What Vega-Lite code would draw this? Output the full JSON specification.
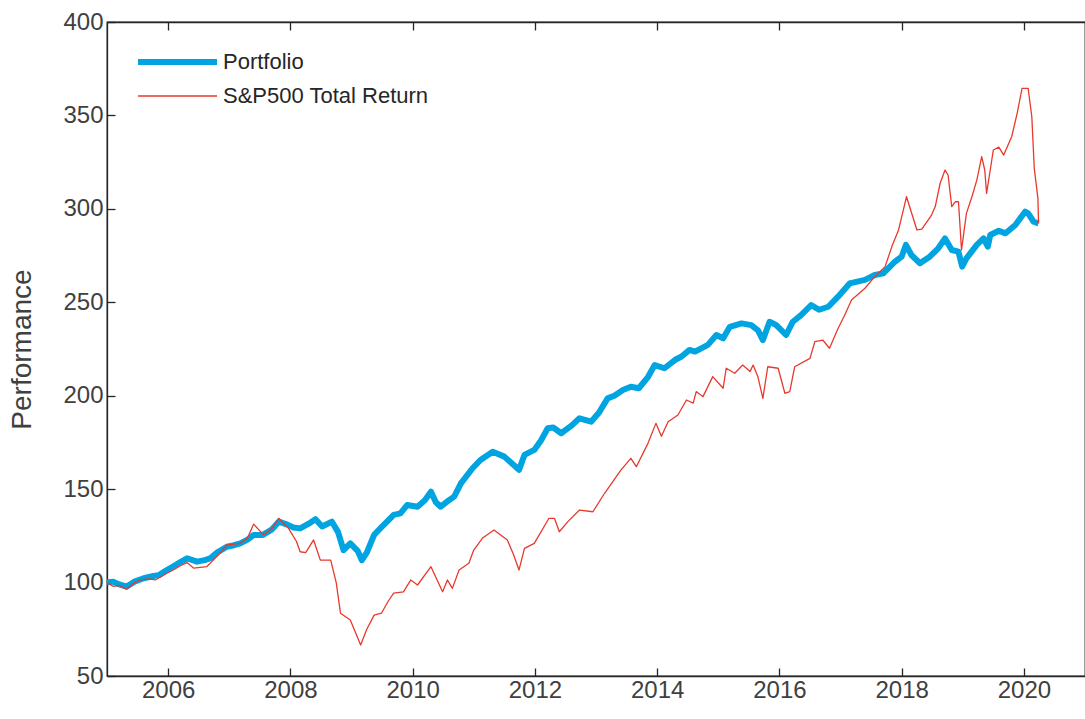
{
  "$schema": "https://vega.github.io/schema/vega-lite/v6.json",
  "width": 978,
  "height": 654,
  "autosize": {"type": "none"},
  "padding": {"left": 107, "top": 22, "right": 0, "bottom": 43},
  "background": "white",
  "config": {
    "font": "Liberation Sans",
    "view": {"stroke": "#262626", "strokeWidth": 1.3},
    "axis": {
      "domainColor": "#262626",
      "domainWidth": 1.3,
      "tickColor": "#262626",
      "tickWidth": 1.3,
      "tickSize": -8,
      "labelColor": "#404040",
      "labelFont": "Liberation Sans",
      "labelFontSize": 24,
      "grid": false,
      "titleFont": "Liberation Sans",
      "titleFontWeight": "normal",
      "titleColor": "#404040"
    }
  },
  "datasets": {
    "series": [
      {"yr": 2005.0, "s": "Portfolio", "v": 100},
      {"yr": 2005.1, "s": "Portfolio", "v": 100.5},
      {"yr": 2005.2, "s": "Portfolio", "v": 99},
      {"yr": 2005.32, "s": "Portfolio", "v": 97.8},
      {"yr": 2005.45, "s": "Portfolio", "v": 100.5},
      {"yr": 2005.6, "s": "Portfolio", "v": 102.3},
      {"yr": 2005.76, "s": "Portfolio", "v": 103.5},
      {"yr": 2005.85, "s": "Portfolio", "v": 104},
      {"yr": 2005.98, "s": "Portfolio", "v": 106.7},
      {"yr": 2006.1, "s": "Portfolio", "v": 109},
      {"yr": 2006.2, "s": "Portfolio", "v": 111},
      {"yr": 2006.31, "s": "Portfolio", "v": 113},
      {"yr": 2006.47, "s": "Portfolio", "v": 111.2},
      {"yr": 2006.6, "s": "Portfolio", "v": 112},
      {"yr": 2006.69, "s": "Portfolio", "v": 113},
      {"yr": 2006.8, "s": "Portfolio", "v": 116},
      {"yr": 2006.96, "s": "Portfolio", "v": 119.2},
      {"yr": 2007.08, "s": "Portfolio", "v": 120},
      {"yr": 2007.18, "s": "Portfolio", "v": 121},
      {"yr": 2007.3, "s": "Portfolio", "v": 123},
      {"yr": 2007.4, "s": "Portfolio", "v": 125.5},
      {"yr": 2007.55, "s": "Portfolio", "v": 125.5},
      {"yr": 2007.7, "s": "Portfolio", "v": 128.5},
      {"yr": 2007.81, "s": "Portfolio", "v": 132.6},
      {"yr": 2007.95, "s": "Portfolio", "v": 131},
      {"yr": 2008.05, "s": "Portfolio", "v": 129.5},
      {"yr": 2008.16, "s": "Portfolio", "v": 129},
      {"yr": 2008.3, "s": "Portfolio", "v": 131.5},
      {"yr": 2008.41, "s": "Portfolio", "v": 133.9},
      {"yr": 2008.52, "s": "Portfolio", "v": 130},
      {"yr": 2008.68, "s": "Portfolio", "v": 132.6},
      {"yr": 2008.78, "s": "Portfolio", "v": 127},
      {"yr": 2008.87, "s": "Portfolio", "v": 117.4},
      {"yr": 2008.98, "s": "Portfolio", "v": 121},
      {"yr": 2009.1, "s": "Portfolio", "v": 117},
      {"yr": 2009.17, "s": "Portfolio", "v": 112},
      {"yr": 2009.25, "s": "Portfolio", "v": 116},
      {"yr": 2009.37, "s": "Portfolio", "v": 125.5},
      {"yr": 2009.5, "s": "Portfolio", "v": 130},
      {"yr": 2009.69, "s": "Portfolio", "v": 136.2},
      {"yr": 2009.8, "s": "Portfolio", "v": 137},
      {"yr": 2009.91, "s": "Portfolio", "v": 141.5},
      {"yr": 2010.08, "s": "Portfolio", "v": 140.6},
      {"yr": 2010.2, "s": "Portfolio", "v": 144},
      {"yr": 2010.3, "s": "Portfolio", "v": 148.6},
      {"yr": 2010.38, "s": "Portfolio", "v": 143},
      {"yr": 2010.46, "s": "Portfolio", "v": 140.6},
      {"yr": 2010.6, "s": "Portfolio", "v": 144.2},
      {"yr": 2010.68, "s": "Portfolio", "v": 146},
      {"yr": 2010.79, "s": "Portfolio", "v": 153.1},
      {"yr": 2010.98, "s": "Portfolio", "v": 161.2},
      {"yr": 2011.11, "s": "Portfolio", "v": 165.6},
      {"yr": 2011.31, "s": "Portfolio", "v": 170},
      {"yr": 2011.5, "s": "Portfolio", "v": 167.4},
      {"yr": 2011.65, "s": "Portfolio", "v": 163},
      {"yr": 2011.74, "s": "Portfolio", "v": 160.3},
      {"yr": 2011.83, "s": "Portfolio", "v": 168.3},
      {"yr": 2011.99, "s": "Portfolio", "v": 171},
      {"yr": 2012.1, "s": "Portfolio", "v": 176},
      {"yr": 2012.21, "s": "Portfolio", "v": 182.6},
      {"yr": 2012.3, "s": "Portfolio", "v": 183},
      {"yr": 2012.43, "s": "Portfolio", "v": 179.9},
      {"yr": 2012.6, "s": "Portfolio", "v": 184},
      {"yr": 2012.73, "s": "Portfolio", "v": 187.9},
      {"yr": 2012.92, "s": "Portfolio", "v": 186.1},
      {"yr": 2013.05, "s": "Portfolio", "v": 191},
      {"yr": 2013.19, "s": "Portfolio", "v": 198.6},
      {"yr": 2013.3, "s": "Portfolio", "v": 200},
      {"yr": 2013.44, "s": "Portfolio", "v": 203.1},
      {"yr": 2013.57, "s": "Portfolio", "v": 204.8},
      {"yr": 2013.7, "s": "Portfolio", "v": 204},
      {"yr": 2013.85, "s": "Portfolio", "v": 210},
      {"yr": 2013.96, "s": "Portfolio", "v": 216.4},
      {"yr": 2014.12, "s": "Portfolio", "v": 214.7},
      {"yr": 2014.29, "s": "Portfolio", "v": 219.1},
      {"yr": 2014.4, "s": "Portfolio", "v": 221},
      {"yr": 2014.53, "s": "Portfolio", "v": 224.5},
      {"yr": 2014.62, "s": "Portfolio", "v": 223.6},
      {"yr": 2014.83, "s": "Portfolio", "v": 227.2},
      {"yr": 2014.97, "s": "Portfolio", "v": 232.5},
      {"yr": 2015.08, "s": "Portfolio", "v": 230.7},
      {"yr": 2015.19, "s": "Portfolio", "v": 236.9},
      {"yr": 2015.38, "s": "Portfolio", "v": 238.7},
      {"yr": 2015.54, "s": "Portfolio", "v": 237.8},
      {"yr": 2015.65, "s": "Portfolio", "v": 235},
      {"yr": 2015.73, "s": "Portfolio", "v": 229.8},
      {"yr": 2015.84, "s": "Portfolio", "v": 239.6},
      {"yr": 2015.95, "s": "Portfolio", "v": 237.8},
      {"yr": 2016.11, "s": "Portfolio", "v": 232.5},
      {"yr": 2016.22, "s": "Portfolio", "v": 239.6},
      {"yr": 2016.35, "s": "Portfolio", "v": 243},
      {"yr": 2016.52, "s": "Portfolio", "v": 248.5},
      {"yr": 2016.65, "s": "Portfolio", "v": 246},
      {"yr": 2016.8, "s": "Portfolio", "v": 247.6},
      {"yr": 2016.96, "s": "Portfolio", "v": 253},
      {"yr": 2017.15, "s": "Portfolio", "v": 260.1},
      {"yr": 2017.4, "s": "Portfolio", "v": 262},
      {"yr": 2017.56, "s": "Portfolio", "v": 264.6},
      {"yr": 2017.7, "s": "Portfolio", "v": 265.5},
      {"yr": 2017.89, "s": "Portfolio", "v": 271.7},
      {"yr": 2018.0, "s": "Portfolio", "v": 274.4},
      {"yr": 2018.07, "s": "Portfolio", "v": 280.7},
      {"yr": 2018.16, "s": "Portfolio", "v": 275.3},
      {"yr": 2018.3, "s": "Portfolio", "v": 270.9},
      {"yr": 2018.46, "s": "Portfolio", "v": 274.4},
      {"yr": 2018.6, "s": "Portfolio", "v": 278.9},
      {"yr": 2018.71, "s": "Portfolio", "v": 284.2},
      {"yr": 2018.82, "s": "Portfolio", "v": 278},
      {"yr": 2018.93, "s": "Portfolio", "v": 277.1},
      {"yr": 2018.99, "s": "Portfolio", "v": 269.1},
      {"yr": 2019.06, "s": "Portfolio", "v": 273.5},
      {"yr": 2019.23, "s": "Portfolio", "v": 280.7},
      {"yr": 2019.34, "s": "Portfolio", "v": 284.2},
      {"yr": 2019.41, "s": "Portfolio", "v": 279.8},
      {"yr": 2019.45, "s": "Portfolio", "v": 286},
      {"yr": 2019.59, "s": "Portfolio", "v": 288.3},
      {"yr": 2019.7, "s": "Portfolio", "v": 286.9},
      {"yr": 2019.86, "s": "Portfolio", "v": 291.4},
      {"yr": 2020.02, "s": "Portfolio", "v": 298.5},
      {"yr": 2020.07, "s": "Portfolio", "v": 297.6},
      {"yr": 2020.16, "s": "Portfolio", "v": 293.1},
      {"yr": 2020.24, "s": "Portfolio", "v": 292.2},
      {"yr": 2005.0, "s": "S&P500 Total Return", "v": 100},
      {"yr": 2005.1, "s": "S&P500 Total Return", "v": 98},
      {"yr": 2005.2, "s": "S&P500 Total Return", "v": 98.5},
      {"yr": 2005.32, "s": "S&P500 Total Return", "v": 96.4},
      {"yr": 2005.45, "s": "S&P500 Total Return", "v": 100},
      {"yr": 2005.54, "s": "S&P500 Total Return", "v": 101.4},
      {"yr": 2005.68, "s": "S&P500 Total Return", "v": 102},
      {"yr": 2005.79, "s": "S&P500 Total Return", "v": 101.4},
      {"yr": 2005.98, "s": "S&P500 Total Return", "v": 105},
      {"yr": 2006.1, "s": "S&P500 Total Return", "v": 107},
      {"yr": 2006.2, "s": "S&P500 Total Return", "v": 109},
      {"yr": 2006.31, "s": "S&P500 Total Return", "v": 110.7},
      {"yr": 2006.42, "s": "S&P500 Total Return", "v": 107.7},
      {"yr": 2006.63, "s": "S&P500 Total Return", "v": 108.5},
      {"yr": 2006.8, "s": "S&P500 Total Return", "v": 114},
      {"yr": 2006.96, "s": "S&P500 Total Return", "v": 120.1},
      {"yr": 2007.18, "s": "S&P500 Total Return", "v": 121},
      {"yr": 2007.3, "s": "S&P500 Total Return", "v": 124},
      {"yr": 2007.4, "s": "S&P500 Total Return", "v": 131.3},
      {"yr": 2007.56, "s": "S&P500 Total Return", "v": 125.5},
      {"yr": 2007.7, "s": "S&P500 Total Return", "v": 129},
      {"yr": 2007.81, "s": "S&P500 Total Return", "v": 134.4},
      {"yr": 2007.97, "s": "S&P500 Total Return", "v": 129},
      {"yr": 2008.1, "s": "S&P500 Total Return", "v": 122},
      {"yr": 2008.16, "s": "S&P500 Total Return", "v": 116.5},
      {"yr": 2008.25, "s": "S&P500 Total Return", "v": 116},
      {"yr": 2008.38, "s": "S&P500 Total Return", "v": 122.8},
      {"yr": 2008.49, "s": "S&P500 Total Return", "v": 112},
      {"yr": 2008.66, "s": "S&P500 Total Return", "v": 112},
      {"yr": 2008.75, "s": "S&P500 Total Return", "v": 100},
      {"yr": 2008.82, "s": "S&P500 Total Return", "v": 83.6},
      {"yr": 2008.98, "s": "S&P500 Total Return", "v": 80},
      {"yr": 2009.15, "s": "S&P500 Total Return", "v": 66.6},
      {"yr": 2009.25, "s": "S&P500 Total Return", "v": 75},
      {"yr": 2009.37, "s": "S&P500 Total Return", "v": 82.6},
      {"yr": 2009.49, "s": "S&P500 Total Return", "v": 83.6},
      {"yr": 2009.6, "s": "S&P500 Total Return", "v": 90},
      {"yr": 2009.69, "s": "S&P500 Total Return", "v": 94.3},
      {"yr": 2009.85, "s": "S&P500 Total Return", "v": 95},
      {"yr": 2009.97, "s": "S&P500 Total Return", "v": 101.4},
      {"yr": 2010.08, "s": "S&P500 Total Return", "v": 98.7},
      {"yr": 2010.3, "s": "S&P500 Total Return", "v": 108.5},
      {"yr": 2010.49, "s": "S&P500 Total Return", "v": 95.1},
      {"yr": 2010.57, "s": "S&P500 Total Return", "v": 101.4},
      {"yr": 2010.65, "s": "S&P500 Total Return", "v": 96.9},
      {"yr": 2010.76, "s": "S&P500 Total Return", "v": 106.7},
      {"yr": 2010.92, "s": "S&P500 Total Return", "v": 110.3},
      {"yr": 2011.0, "s": "S&P500 Total Return", "v": 117.4},
      {"yr": 2011.14, "s": "S&P500 Total Return", "v": 123.7},
      {"yr": 2011.33, "s": "S&P500 Total Return", "v": 128.1},
      {"yr": 2011.55, "s": "S&P500 Total Return", "v": 122.8},
      {"yr": 2011.65, "s": "S&P500 Total Return", "v": 115},
      {"yr": 2011.74, "s": "S&P500 Total Return", "v": 106.7},
      {"yr": 2011.83, "s": "S&P500 Total Return", "v": 118.3},
      {"yr": 2011.99, "s": "S&P500 Total Return", "v": 121},
      {"yr": 2012.23, "s": "S&P500 Total Return", "v": 134.4},
      {"yr": 2012.32, "s": "S&P500 Total Return", "v": 134.4},
      {"yr": 2012.4, "s": "S&P500 Total Return", "v": 127.2},
      {"yr": 2012.54, "s": "S&P500 Total Return", "v": 132.6},
      {"yr": 2012.73, "s": "S&P500 Total Return", "v": 138.8},
      {"yr": 2012.95, "s": "S&P500 Total Return", "v": 137.9},
      {"yr": 2013.14, "s": "S&P500 Total Return", "v": 147.8},
      {"yr": 2013.41, "s": "S&P500 Total Return", "v": 160.3},
      {"yr": 2013.57, "s": "S&P500 Total Return", "v": 166.5},
      {"yr": 2013.66, "s": "S&P500 Total Return", "v": 162},
      {"yr": 2013.85, "s": "S&P500 Total Return", "v": 174.5},
      {"yr": 2013.98, "s": "S&P500 Total Return", "v": 185.2},
      {"yr": 2014.07, "s": "S&P500 Total Return", "v": 178.3},
      {"yr": 2014.18, "s": "S&P500 Total Return", "v": 186.1},
      {"yr": 2014.34, "s": "S&P500 Total Return", "v": 189.7},
      {"yr": 2014.48, "s": "S&P500 Total Return", "v": 197.7},
      {"yr": 2014.59, "s": "S&P500 Total Return", "v": 196},
      {"yr": 2014.64, "s": "S&P500 Total Return", "v": 202.2},
      {"yr": 2014.75, "s": "S&P500 Total Return", "v": 199.5},
      {"yr": 2014.91, "s": "S&P500 Total Return", "v": 210.2},
      {"yr": 2015.08, "s": "S&P500 Total Return", "v": 204},
      {"yr": 2015.13, "s": "S&P500 Total Return", "v": 214.7},
      {"yr": 2015.27, "s": "S&P500 Total Return", "v": 212},
      {"yr": 2015.4, "s": "S&P500 Total Return", "v": 216.4},
      {"yr": 2015.52, "s": "S&P500 Total Return", "v": 212.9},
      {"yr": 2015.57, "s": "S&P500 Total Return", "v": 216.4},
      {"yr": 2015.65, "s": "S&P500 Total Return", "v": 210},
      {"yr": 2015.73, "s": "S&P500 Total Return", "v": 198.6},
      {"yr": 2015.81, "s": "S&P500 Total Return", "v": 215.5},
      {"yr": 2015.98, "s": "S&P500 Total Return", "v": 214.7},
      {"yr": 2016.09, "s": "S&P500 Total Return", "v": 201.3},
      {"yr": 2016.17, "s": "S&P500 Total Return", "v": 202.2},
      {"yr": 2016.25, "s": "S&P500 Total Return", "v": 215.5},
      {"yr": 2016.5, "s": "S&P500 Total Return", "v": 220},
      {"yr": 2016.58, "s": "S&P500 Total Return", "v": 228.9},
      {"yr": 2016.71, "s": "S&P500 Total Return", "v": 229.8},
      {"yr": 2016.82, "s": "S&P500 Total Return", "v": 225.4},
      {"yr": 2016.96, "s": "S&P500 Total Return", "v": 236},
      {"yr": 2017.07, "s": "S&P500 Total Return", "v": 243.2},
      {"yr": 2017.18, "s": "S&P500 Total Return", "v": 251.2},
      {"yr": 2017.4, "s": "S&P500 Total Return", "v": 257.5},
      {"yr": 2017.56, "s": "S&P500 Total Return", "v": 263.7},
      {"yr": 2017.73, "s": "S&P500 Total Return", "v": 269.1},
      {"yr": 2017.84, "s": "S&P500 Total Return", "v": 279.8},
      {"yr": 2017.95, "s": "S&P500 Total Return", "v": 288.7},
      {"yr": 2018.08, "s": "S&P500 Total Return", "v": 306.5},
      {"yr": 2018.25, "s": "S&P500 Total Return", "v": 288.7},
      {"yr": 2018.33, "s": "S&P500 Total Return", "v": 289.2},
      {"yr": 2018.49, "s": "S&P500 Total Return", "v": 296.7},
      {"yr": 2018.55, "s": "S&P500 Total Return", "v": 301.2},
      {"yr": 2018.63, "s": "S&P500 Total Return", "v": 313.7},
      {"yr": 2018.71, "s": "S&P500 Total Return", "v": 320.8},
      {"yr": 2018.76, "s": "S&P500 Total Return", "v": 318.1},
      {"yr": 2018.82, "s": "S&P500 Total Return", "v": 301.2},
      {"yr": 2018.88, "s": "S&P500 Total Return", "v": 303.9},
      {"yr": 2018.93, "s": "S&P500 Total Return", "v": 303.8},
      {"yr": 2018.98, "s": "S&P500 Total Return", "v": 278},
      {"yr": 2019.06, "s": "S&P500 Total Return", "v": 297.6},
      {"yr": 2019.15, "s": "S&P500 Total Return", "v": 306.5},
      {"yr": 2019.23, "s": "S&P500 Total Return", "v": 315.4},
      {"yr": 2019.31, "s": "S&P500 Total Return", "v": 327.9},
      {"yr": 2019.36, "s": "S&P500 Total Return", "v": 320.8},
      {"yr": 2019.39, "s": "S&P500 Total Return", "v": 308.3},
      {"yr": 2019.45, "s": "S&P500 Total Return", "v": 320.8},
      {"yr": 2019.5, "s": "S&P500 Total Return", "v": 331.5},
      {"yr": 2019.59, "s": "S&P500 Total Return", "v": 333},
      {"yr": 2019.67, "s": "S&P500 Total Return", "v": 328.8},
      {"yr": 2019.8, "s": "S&P500 Total Return", "v": 338.6},
      {"yr": 2019.89, "s": "S&P500 Total Return", "v": 351.1},
      {"yr": 2019.97, "s": "S&P500 Total Return", "v": 364.5},
      {"yr": 2020.07, "s": "S&P500 Total Return", "v": 364.5},
      {"yr": 2020.13, "s": "S&P500 Total Return", "v": 349.3},
      {"yr": 2020.17, "s": "S&P500 Total Return", "v": 321.7},
      {"yr": 2020.23, "s": "S&P500 Total Return", "v": 305.6},
      {"yr": 2020.24, "s": "S&P500 Total Return", "v": 292.2}
    ],
    "frame": [{"yr": 2005}, {"yr": 2021}]
  },
  "layer": [
    {
      "data": {"name": "frame"},
      "mark": {"type": "point", "opacity": 0},
      "encoding": {
        "x": {
          "field": "yr", "type": "quantitative",
          "scale": {"domain": [2005, 2021], "nice": false, "zero": false},
          "axis": {"orient": "top", "labels": false, "title": null, "values": [2006, 2008, 2010, 2012, 2014, 2016, 2018, 2020]}
        }
      }
    },
    {
      "data": {"name": "series"},
      "mark": {"type": "line", "interpolate": "linear", "strokeJoin": "round", "strokeCap": "butt"},
      "encoding": {
        "x": {
          "field": "yr", "type": "quantitative",
          "scale": {"domain": [2005, 2021], "nice": false, "zero": false},
          "axis": {"orient": "bottom", "title": null, "format": "d", "labelPadding": 10,
                   "values": [2006, 2008, 2010, 2012, 2014, 2016, 2018, 2020]}
        },
        "y": {
          "field": "v", "type": "quantitative",
          "scale": {"domain": [50, 400], "nice": false, "zero": false},
          "axis": {"title": "Performance", "titleFontSize": 28, "titlePadding": 26, "labelPadding": 12,
                   "values": [50, 100, 150, 200, 250, 300, 350, 400]}
        },
        "color": {
          "field": "s", "type": "nominal",
          "scale": {"domain": ["Portfolio", "S&P500 Total Return"], "range": ["#00A4E0", "#E8392C"]},
          "legend": {
            "title": null, "orient": "none", "legendX": 28, "legendY": 23,
            "symbolType": "stroke", "symbolSize": 6241, "symbolStrokeWidth": 3,
            "labelFont": "Liberation Sans", "labelFontSize": 22, "labelColor": "#262626",
            "labelOffset": 3, "labelLimit": 0, "rowPadding": 0, "clipHeight": 34, "padding": 0
          }
        },
        "strokeWidth": {
          "field": "s", "type": "nominal",
          "scale": {"domain": ["Portfolio", "S&P500 Total Return"], "range": [6, 1.3]},
          "legend": null
        }
      }
    }
  ],
  "resolve": {"axis": {"x": "independent"}}
}
